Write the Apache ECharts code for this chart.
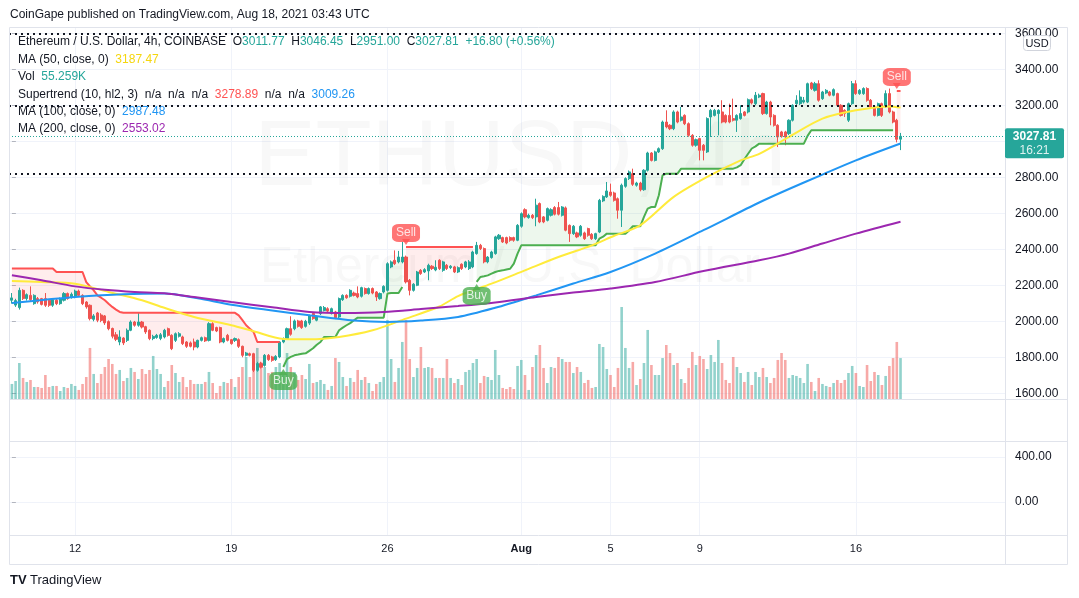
<!DOCTYPE html>
<html>
<head>
<meta charset="utf-8">
<script src="https://cdn.jsdelivr.net/npm/echarts@6/dist/echarts.min.js"></script>
<style>
  html, body { margin: 0; padding: 0; background: #fff; }
  #chart { width: 1079px; height: 598px; }
</style>
</head>
<body>
<div id="chart"></div>
<script>
// ETH/USD 4h, Coinbase. candle 0 = 9 Jul 2021 04:00 UTC, last = 18 Aug 00:00
// each candle: [open, close, low, high]
const candles = [
  [2117,2130,2098,2157],[2090,2115,2080,2125],[2076,2172,2065,2187],[2172,2126,2118,2178],[2126,2148,2115,2155],
  [2144,2120,2112,2194],[2098,2144,2092,2150],[2126,2108,2098,2135],[2126,2094,2088,2130],[2126,2089,2080,2157],
  [2117,2089,2080,2122],[2089,2120,2080,2126],[2117,2098,2090,2124],[2098,2126,2092,2132],[2117,2154,2110,2162],
  [2154,2126,2120,2160],[2135,2150,2126,2160],[2135,2168,2128,2176],[2168,2144,2138,2176],[2144,2098,2090,2150],
  [2107,2080,2070,2112],[2089,2015,2005,2094],[2011,2030,2000,2040],[2046,2006,1995,2052],[2035,2005,1995,2045],
  [2030,1991,1980,2035],[1998,1959,1950,2005],[1960,1917,1905,1965],[1925,1900,1890,1940],[1885,1913,1867,1950],
  [1907,1880,1868,1912],[1894,1950,1885,1960],[1950,1996,1945,2005],[1996,1978,1970,2002],[1978,1996,1970,2046],
  [1996,1968,1960,2002],[1970,1941,1930,1975],[1950,1904,1895,1955],[1904,1916,1895,1925],[1910,1922,1903,1930],
  [1905,1925,1895,1935],[1913,1950,1905,1958],[1959,1922,1915,1965],[1922,1848,1840,1928],[1894,1931,1885,1938],
  [1917,1931,1910,1940],[1913,1876,1868,1920],[1885,1861,1852,1890],[1880,1861,1855,1888],[1885,1857,1839,1904],
  [1857,1894,1850,1898],[1894,1909,1888,1915],[1909,1891,1885,1915],[1894,1987,1888,1995],[1987,1950,1945,1995],
  [1965,1946,1940,1970],[1965,1885,1878,1970],[1885,1904,1878,1910],[1922,1894,1888,1930],[1898,1876,1870,1902],
  [1894,1904,1885,1910],[1898,1861,1852,1905],[1861,1811,1800,1865],[1811,1824,1805,1830],[1820,1811,1805,1826],
  [1820,1728,1718,1825],[1728,1765,1720,1775],[1765,1745,1738,1775],[1755,1811,1748,1818],[1811,1787,1780,1818],
  [1802,1783,1775,1808],[1787,1805,1780,1812],[1802,1885,1795,1890],[1885,1904,1878,1910],[1904,1959,1898,1965],
  [1959,1928,1920,2028],[1959,2002,1950,2010],[2002,1972,1965,2008],[2002,1965,1958,2008],[1972,2000,1965,2008],
  [1990,2030,1980,2038],[2043,2015,2008,2050],[2006,2024,2000,2030],[2043,2080,2035,2085],[2060,2076,2055,2085],
  [2070,2057,2050,2078],[2043,2070,2038,2076],[2052,2020,2012,2058],[2024,2126,2018,2132],[2120,2144,2113,2150],
  [2144,2131,2125,2150],[2139,2172,2132,2178],[2157,2144,2138,2165],[2154,2135,2128,2194],[2139,2187,2132,2192],
  [2182,2154,2148,2188],[2154,2182,2148,2188],[2182,2157,2150,2188],[2163,2135,2113,2168],[2126,2154,2120,2160],
  [2163,2194,2155,2200],[2172,2320,2165,2328],[2302,2330,2295,2338],[2339,2320,2312,2394],[2330,2357,2322,2391],
  [2330,2357,2322,2441],[2357,2219,2210,2365],[2228,2172,2144,2235],[2172,2206,2165,2212],[2200,2274,2195,2280],
  [2283,2265,2258,2290],[2274,2287,2268,2295],[2280,2311,2228,2320],[2306,2293,2285,2312],[2285,2300,2278,2339],
  [2339,2293,2285,2345],[2283,2330,2275,2336],[2311,2293,2285,2318],[2298,2306,2290,2312],[2302,2274,2268,2308],
  [2274,2298,2268,2305],[2317,2293,2285,2322],[2302,2330,2295,2336],[2293,2330,2285,2340],[2302,2385,2295,2392],
  [2376,2422,2370,2441],[2422,2404,2396,2430],[2404,2330,2322,2410],[2330,2357,2322,2362],[2354,2385,2348,2392],
  [2376,2469,2370,2475],[2459,2478,2452,2485],[2465,2441,2435,2470],[2465,2435,2428,2470],[2465,2450,2442,2472],
  [2465,2450,2442,2470],[2450,2533,2445,2540],[2528,2598,2520,2605],[2620,2580,2572,2628],[2576,2589,2570,2598],
  [2589,2576,2568,2596],[2580,2645,2528,2681],[2654,2552,2545,2660],[2580,2552,2545,2585],[2561,2626,2555,2632],
  [2589,2620,2582,2628],[2632,2595,2588,2640],[2632,2595,2588,2663],[2589,2635,2582,2640],[2630,2506,2500,2638],
  [2533,2487,2441,2538],[2487,2528,2480,2535],[2491,2469,2462,2498],[2478,2528,2470,2535],[2491,2459,2452,2498],
  [2515,2478,2470,2520],[2483,2459,2452,2490],[2459,2487,2452,2492],[2496,2672,2490,2680],[2669,2694,2662,2700],
  [2691,2724,2685,2774],[2718,2700,2692,2765],[2713,2672,2665,2720],[2681,2617,2570,2688],[2617,2756,2524,2765],
  [2750,2793,2742,2800],[2793,2830,2785,2838],[2820,2761,2752,2848],[2756,2768,2748,2775],[2768,2731,2722,2775],
  [2731,2839,2725,2845],[2839,2935,2832,2942],[2935,2894,2888,2940],[2894,2941,2888,2948],[2941,2959,2935,2966],
  [2959,3107,2952,3115],[3107,3080,3072,3172],[3089,3070,3062,3095],[3070,3163,3062,3172],[3163,3107,3100,3170],
  [3117,3135,3110,3191],[3144,3098,3090,3150],[3098,3033,3025,3105],[3033,2978,2970,3040],[2978,3009,2970,3015],
  [3015,2950,2894,3020],[2978,2950,2894,2985],[2941,3126,2935,3133],[3135,3172,3024,3180],[3144,3172,3138,3180],
  [3154,3172,3033,3178],[3163,3107,3100,3228],[3144,3107,3100,3150],[3144,3107,3100,3209],[3126,3117,3110,3237],
  [3117,3144,3052,3150],[3126,3154,3120,3200],[3163,3144,3138,3168],[3163,3231,3155,3238],[3231,3213,3205,3238],
  [3209,3256,3200,3274],[3246,3256,3240,3265],[3265,3154,3146,3270],[3154,3218,3148,3225],[3218,3135,3089,3225],
  [3144,3089,3082,3150],[3089,3024,2968,3095],[3052,3028,3020,3058],[3052,3024,2978,3058],[3043,3117,3035,3122],
  [3117,3200,3110,3206],[3209,3228,3202,3256],[3209,3246,3202,3283],[3218,3228,3210,3246],[3218,3320,3212,3326],
  [3324,3293,3285,3330],[3283,3320,3276,3330],[3320,3228,3220,3339],[3237,3274,3230,3280],[3268,3283,3262,3290],
  [3274,3256,3250,3280],[3256,3287,3250,3294],[3265,3200,3192,3270],[3200,3144,3138,3206],[3172,3154,3135,3178],
  [3117,3209,3107,3215],[3209,3320,3202,3335],[3320,3265,3258,3339],[3265,3283,3258,3290],[3265,3293,3258,3300],
  [3293,3228,3220,3300],[3228,3191,3185,3235],[3191,3144,3138,3198],[3144,3209,3138,3215],[3209,3144,3135,3215],
  [3191,3265,3185,3283],[3265,3163,3155,3293],[3163,3107,3100,3170],[3117,3011,2994,3125],[3011.77,3027.81,2951.00,3046.45]
];

// volume per candle, thousands of ETH
const volumes = [
  20.3,24.3,48.6,28.4,23,25.7,16.2,16.2,14.9,32.4,16.2,17.6,17.6,10.8,16.2,14.9,20.3,17.6,12.2,20.3,
  29.7,68.9,33.8,21.6,33.8,43.2,54,47.3,33.8,39.2,24.3,28.4,41.9,36.5,27,40.5,33.8,39.2,58.1,40.5,33.8,
  16.2,24.3,45.9,35.1,23,29.7,16.2,25.7,20.3,20.3,20.3,23,36.5,21.6,8.1,17.6,23,21.6,27,16.2,
  29.7,43.2,56.7,29.7,55.3,68.9,50,43.2,35.1,36.5,43.2,48.6,32.4,62.1,43.2,36.5,25.7,32.4,27,47.3,
  21.6,23,25.7,20.3,12.2,17.6,55.3,50,29.7,17.6,28.4,23,39.2,25.7,29.7,21.6,10.8,20.3,23,29.7,
  106.7,54,23,41.9,77,106.7,54,29.7,41.9,70.2,41.9,43.2,41.9,28.4,28.4,28.4,54,28.4,21.6,27,
  18.9,36.5,39.2,48.6,54,21.6,31.1,29.7,25.7,66.2,32.4,14.9,13.5,16.2,13.5,44.6,52.7,32.4,12.2,43.2,
  59.4,72.9,41.9,21.6,43.2,41.9,56.7,54,50,50,35.1,43.2,36.5,21.6,25.7,14.9,16.2,74.3,70.2,40.5,
  32.4,16.2,41.9,124.2,68.9,41.9,50,18.9,27,48.6,93.2,45.9,32.4,32.4,55.3,72.9,62.1,45.9,48.6,27,
  21.6,41.9,63.5,45.9,58.1,54,40.5,59.4,50,79.7,48.6,25.7,21.6,56.7,43.2,35.1,23,36.5,18.9,36.5,29.7,
  41.9,29.7,21.6,28.4,52.7,62.1,52.7,28.4,32.4,31.1,28.4,21.6,47.3,23,10.8,28.4,20.3,17.6,16.2,21.6,
  25.7,21.6,25.7,35.1,44.6,35.1,17.6,16.2,45.9,24.3,36.5,32.4,18.9,31.1,44.6,55.3,77,55.26
];

// moving averages, [candle index, value]
const ma50 = [[0,2224],[8,2218],[17,2209],[26,2163],[35,2117],[41,2075],[49,2024],[59,1978],[65,1945],
  [73,1902],[80,1900],[88,1913],[97,1950],[106,2015],[115,2082],[120,2140],[129,2209],[138,2283],[147,2357],
  [156,2422],[162,2475],[169,2533],[178,2691],[187,2802],[196,2894],[201,2930],[209,3024],[218,3126],
  [227,3172],[236,3194],[239,3187.47]];
const ma100 = [[0,2102],[10,2122],[17,2135],[30,2150],[41,2154],[50,2128],[59,2092],[70,2060],[80,2033],
  [92,2004],[101,1996],[110,2004],[120,2024],[130,2075],[141,2144],[151,2210],[161,2274],[173,2376],
  [186,2506],[201,2660],[209,2735],[218,2815],[227,2894],[239,2987.48]];
const ma200 = [[0,2256],[8,2228],[17,2194],[25,2175],[33,2163],[41,2156],[50,2132],[59,2107],[70,2078],
  [80,2052],[90,2046],[100,2052],[110,2068],[120,2085],[130,2105],[141,2135],[151,2160],[161,2182],
  [173,2218],[186,2279],[201,2339],[209,2376],[218,2432],[227,2487],[239,2553.02]];

// supertrend (10, hl2, 3) value per candle
const superTrend = [
  2293,2293,2293,2293,2293,2293,2293,2293,2293,2293,2293,2293,
  2274,2274,2274,2274,2274,2274,2274,2274,
  2218,2194,2172,2144,2131,2117,2098,2080,2065,2052,
  2047,2047,2047,2047,2047,2047,2047,2047,2047,2047,2047,2047,2047,2047,2047,2047,
  2047,2047,2047,2047,2047,2047,2047,2047,2047,2047,2047,2047,2047,2047,2047,
  2033,2006,1978,1959,1941,
  1885,1885,1885,1885,1885,1885,1885,
  1746,1790,1802,1811,1815,1820,1822,1836,1850,1870,1885,
  1913,1913,1913,1913,
  1950,1965,1978,1990,2006,
  2020,2020,2020,2020,2020,2020,2020,2020,
  2154,2157,2157,2157,2191,
  2413,2413,2413,2413,2413,2413,2413,2413,2413,2413,2413,2413,2413,2413,2413,2413,2413,2413,2413,
  2219,2246,2250,2255,2265,2274,2280,2283,2288,2292,2320,2376,
  2422,2422,2422,2422,2422,2422,2422,2422,2422,2422,2422,2422,2422,2422,2422,2422,2422,2422,2422,2422,2422,
  2459,2470,2487,2487,2487,2487,2487,2487,
  2505,2528,2528,2528,2580,2626,2635,2635,2700,2811,
  2820,2820,2820,2820,
  2848,2848,2848,2848,2848,2848,2848,2848,2848,2848,2848,2848,2848,2848,2848,
  2855,2867,2900,2931,2960,2972,2987,
  2987,2987,2987,2987,2987,2987,2987,2987,2987,2987,2987,2987,
  3030,
  3061,3061,3061,3061,3061,3061,3061,3061,3061,3061,3061,3061,3061,3061,3061,3061,3061,3061,3061,3061,3061,3061,3061,
  3279,3278.89
];
// [first candle, last candle, direction]
const trendSegments = [[0, 72, 'down'], [73, 105, 'up'], [106, 124, 'down'], [125, 237, 'up'], [238, 239, 'down']];
const signals = [[73, 'Buy'], [106, 'Sell'], [125, 'Buy'], [238, 'Sell']];

const dateTicks = [17, 59, 101, 137, 161, 185, 227];
const dateLabels = ['12', '19', '26', 'Aug', '5', '9', '16'];
const priceTicks = [1600, 1800, 2000, 2200, 2400, 2600, 2800, 3000, 3200, 3400, 3600];
const lowerTicks = [0, 400];
const drawnLevels = [3600, 3200, 2820];
const lastPrice = 3027.81;

const UP = '#26a69a';
const DOWN = '#ef5350';
const FONT = '"Liberation Sans", Arial, sans-serif';
const TEXT = '#131722';

// build the series data
const candleData = candles.map((c, i) => [i, c[0], c[1], c[2], c[3]]);
const volData = volumes.map((v, i) => ({
  value: [i, v],
  itemStyle: { color: candles[i][1] >= candles[i][0] ? 'rgba(38,166,154,0.5)' : 'rgba(239,83,80,0.5)' }
}));

function trendOf(i) {
  for (const s of trendSegments) if (i >= s[0] && i <= s[1]) return s[2];
  return null;
}
const stUp = superTrend.map((v, i) => [i, trendOf(i) === 'up' ? v : null]);
const stDown = superTrend.map((v, i) => [i, trendOf(i) === 'down' ? v : null]);

const sigData = [];
signals.forEach(([i, kind]) => {
  const buy = kind === 'Buy';
  const col = buy ? '#4caf50' : '#ff5252';
  sigData.push({
    value: [i, superTrend[i]], symbol: 'triangle', symbolSize: [8, 6], symbolRotate: buy ? 0 : 180,
    symbolOffset: [0, buy ? 5 : -5], itemStyle: { color: col }, label: { show: false }
  });
  sigData.push({
    value: [i, superTrend[i]], symbol: 'roundRect', symbolSize: [28, 18],
    symbolOffset: [0, buy ? 14 : -14], itemStyle: { color: col },
    label: { show: true, position: 'inside', formatter: kind, color: '#fff', fontSize: 12, fontFamily: FONT }
  });
});

const xBase = {
  type: 'value', min: -0.78, max: 267.1,
  axisLine: { show: false },
  axisTick: { show: false, customValues: dateTicks },
  axisLabel: { show: false, customValues: dateTicks },
  splitLine: { show: true, lineStyle: { color: '#f0f3fa', width: 1 } }
};

const chart = echarts.init(document.getElementById('chart'));
chart.setOption({
  animation: false,
  backgroundColor: '#fff',
  grid: [
    { left: 9, right: 74, top: 27, height: 372 },   // price pane
    { left: 9, right: 74, top: 299, height: 100 },  // volume overlay
    { left: 9, right: 74, top: 399, height: 42 },   // empty pane
    { left: 9, right: 74, top: 441, height: 94 }    // lower pane
  ],
  xAxis: [
    Object.assign({}, xBase, { gridIndex: 0 }),
    Object.assign({}, xBase, { gridIndex: 1, splitLine: { show: false } }),
    Object.assign({}, xBase, { gridIndex: 2 }),
    Object.assign({}, xBase, {
      gridIndex: 3,
      axisLabel: {
        show: true, customValues: dateTicks, margin: 8, fontSize: 11, color: TEXT, fontFamily: FONT,
        formatter: v => {
          const k = dateTicks.indexOf(Math.round(v));
          const t = k >= 0 ? dateLabels[k] : '';
          return t === 'Aug' ? '{b|Aug}' : t;
        },
        rich: { b: { fontWeight: 'bold', fontSize: 11, color: TEXT, fontFamily: FONT } }
      }
    })
  ],
  yAxis: [
    {
      gridIndex: 0, type: 'value', position: 'right', min: 1568.3, max: 3635,
      axisLine: { show: false },
      axisTick: { show: true, length: 4, customValues: priceTicks, lineStyle: { color: '#b2b5be' } },
      axisLabel: { customValues: priceTicks, margin: 10, fontSize: 12, color: TEXT, fontFamily: FONT,
        formatter: v => v.toFixed(2) },
      splitLine: { show: true, lineStyle: { color: '#f0f3fa' } }
    },
    { gridIndex: 1, type: 'value', min: 0, max: 135, show: false, splitLine: { show: false } },
    { gridIndex: 2, type: 'value', min: 0, max: 1, show: false, splitLine: { show: false } },
    {
      gridIndex: 3, type: 'value', position: 'right', min: -293.3, max: 542.2,
      axisLine: { show: false },
      axisTick: { show: true, length: 4, customValues: lowerTicks, lineStyle: { color: '#b2b5be' } },
      axisLabel: { customValues: lowerTicks, margin: 10, fontSize: 12, color: TEXT, fontFamily: FONT,
        formatter: v => v.toFixed(2) },
      splitLine: { show: true, lineStyle: { color: '#f0f3fa' } }
    }
  ],
  series: [
    {
      name: 'Vol', type: 'bar', xAxisIndex: 1, yAxisIndex: 1, barWidth: 2.6, data: volData, z: 1, silent: true
    },
    {
      // supertrend fill: between the trend line and the middle of each candle body
      name: 'ST fill', type: 'custom', xAxisIndex: 0, yAxisIndex: 0, z: 2, silent: true,
      data: trendSegments.map(s => [s[0], superTrend[s[0]]]),
      renderItem: (params, api) => {
        const seg = trendSegments[params.dataIndex];
        const pts = [];
        for (let i = seg[0]; i <= seg[1]; i++) pts.push(api.coord([i, superTrend[i]]));
        for (let i = seg[1]; i >= seg[0]; i--) pts.push(api.coord([i, (candles[i][0] + candles[i][1]) / 2]));
        return {
          type: 'polygon', shape: { points: pts },
          style: { fill: seg[2] === 'up' ? 'rgba(76,175,80,0.1)' : 'rgba(255,82,82,0.1)' }
        };
      }
    },
    {
      name: 'ETHUSD', type: 'candlestick', data: candleData, encode: { x: 0, y: [1, 2, 3, 4] },
      barWidth: 2.6, z: 3,
      itemStyle: { color: UP, color0: DOWN, borderColor: UP, borderColor0: DOWN, borderWidth: 1 },
      markLine: {
        silent: true, symbol: 'none', label: { show: false },
        data: [
          ...drawnLevels.map(v => ({ yAxis: v, lineStyle: { color: '#131722', type: [2, 4], width: 2 } })),
          { yAxis: lastPrice, lineStyle: { color: UP, type: [1, 2], width: 1 } }
        ]
      }
    },
    { name: 'ST up', type: 'line', data: stUp, symbol: 'none', z: 4, lineStyle: { color: '#4caf50', width: 2 } },
    { name: 'ST down', type: 'line', data: stDown, symbol: 'none', z: 4, lineStyle: { color: '#ff5252', width: 2 } },
    { name: 'MA50', type: 'line', data: ma50, symbol: 'none', smooth: 0.3, z: 4, lineStyle: { color: '#ffeb3b', width: 2 } },
    { name: 'MA100', type: 'line', data: ma100, symbol: 'none', smooth: 0.3, z: 4, lineStyle: { color: '#2196f3', width: 2 } },
    { name: 'MA200', type: 'line', data: ma200, symbol: 'none', smooth: 0.3, z: 4, lineStyle: { color: '#9c27b0', width: 2 } },
    { name: 'signals', type: 'scatter', data: sigData, z: 6, silent: true }
  ]
});

// annotations that need pixel positions
const priceY = chart.convertToPixel({ yAxisIndex: 0 }, lastPrice);
const sepColor = '#e0e3eb';
const legendRows = [
  '{a|Ethereum / U.S. Dollar, 4h, COINBASE}  {a|O}{g|3011.77}  {a|H}{g|3046.45}  {a|L}{g|2951.00}  {a|C}{g|3027.81}  {g|+16.80 (+0.56%)}',
  '{a|MA (50, close, 0)}  {y|3187.47}',
  '{a|Vol}  {g|55.259K}',
  '{a|Supertrend (10, hl2, 3)}  {a|n/a}  {a|n/a}  {a|n/a}  {r|3278.89}  {a|n/a}  {a|n/a}  {bl|3009.26}',
  '{a|MA (100, close, 0)}  {bl|2987.48}',
  '{a|MA (200, close, 0)}  {p|2553.02}'
];
const rich = {
  a: { fill: TEXT, font: '12px ' + FONT },
  g: { fill: UP, font: '12px ' + FONT },
  y: { fill: '#f5d60f', font: '12px ' + FONT },
  r: { fill: '#ff5252', font: '12px ' + FONT },
  bl: { fill: '#2196f3', font: '12px ' + FONT },
  p: { fill: '#9c27b0', font: '12px ' + FONT }
};
const graphics = [
  { type: 'text', z: 0, silent: true, style: { text: 'ETHUSD, 4h', x: 520, y: 160, align: 'center', verticalAlign: 'middle',
      font: '92px ' + FONT, fill: 'rgba(19,23,34,0.03)' } },
  { type: 'text', z: 0, silent: true, style: { text: 'Ethereum / U.S. Dollar', x: 510, y: 268, align: 'center', verticalAlign: 'middle',
      font: '50px ' + FONT, fill: 'rgba(19,23,34,0.03)' } },
  { type: 'text', z: 50, silent: true, style: { text: 'CoinGape published on TradingView.com, Aug 18, 2021 03:43 UTC',
      x: 10, y: 15, verticalAlign: 'middle', font: '12px ' + FONT, fill: TEXT } },
  ...legendRows.map((t, k) => ({ type: 'text', z: 50, silent: true,
      style: { text: t, rich: rich, x: 18, y: 42 + k * 17.4, verticalAlign: 'middle', font: '12px ' + FONT, fill: TEXT } })),
  // frame and pane separators
  { type: 'rect', z: 60, silent: true, shape: { x: 9.5, y: 27.5, width: 1058, height: 537 },
    style: { fill: null, stroke: sepColor, lineWidth: 1 } },
  ...[399, 441, 535].map(y => ({ type: 'line', z: 60, silent: true, shape: { x1: 9.5, y1: y + 0.5, x2: 1067.5, y2: y + 0.5 },
    style: { stroke: sepColor, lineWidth: 1 } })),
  { type: 'line', z: 60, silent: true, shape: { x1: 1005.5, y1: 27.5, x2: 1005.5, y2: 564.5 }, style: { stroke: sepColor, lineWidth: 1 } },
  // last price tag
  { type: 'rect', z: 70, silent: true, shape: { x: 1005, y: priceY - 8, width: 59, height: 30, r: 2 }, style: { fill: UP } },
  { type: 'text', z: 71, silent: true, style: { text: '3027.81', x: 1034.5, y: priceY + 0.5, align: 'center', verticalAlign: 'middle',
      font: 'bold 12px ' + FONT, fill: '#fff' } },
  { type: 'text', z: 71, silent: true, style: { text: '16:21', x: 1034.5, y: priceY + 14.5, align: 'center', verticalAlign: 'middle',
      font: '12px ' + FONT, fill: 'rgba(255,255,255,0.85)' } },
  // currency box
  { type: 'rect', z: 70, silent: true, shape: { x: 1023.5, y: 35.5, width: 27, height: 15, r: 3 },
    style: { fill: '#fff', stroke: '#d1d4dc', lineWidth: 1 } },
  { type: 'text', z: 71, silent: true, style: { text: 'USD', x: 1037, y: 43.5, align: 'center', verticalAlign: 'middle',
      font: '11px ' + FONT, fill: TEXT } },
  // footer logo
  { type: 'text', z: 50, silent: true, style: { text: '{l|TV} {t|TradingView}', x: 10, y: 580, verticalAlign: 'middle',
      rich: { l: { font: 'bold 13px ' + FONT, fill: TEXT }, t: { font: '13px ' + FONT, fill: TEXT } } } }
];
chart.setOption({ graphic: graphics });
</script>
</body>
</html>
